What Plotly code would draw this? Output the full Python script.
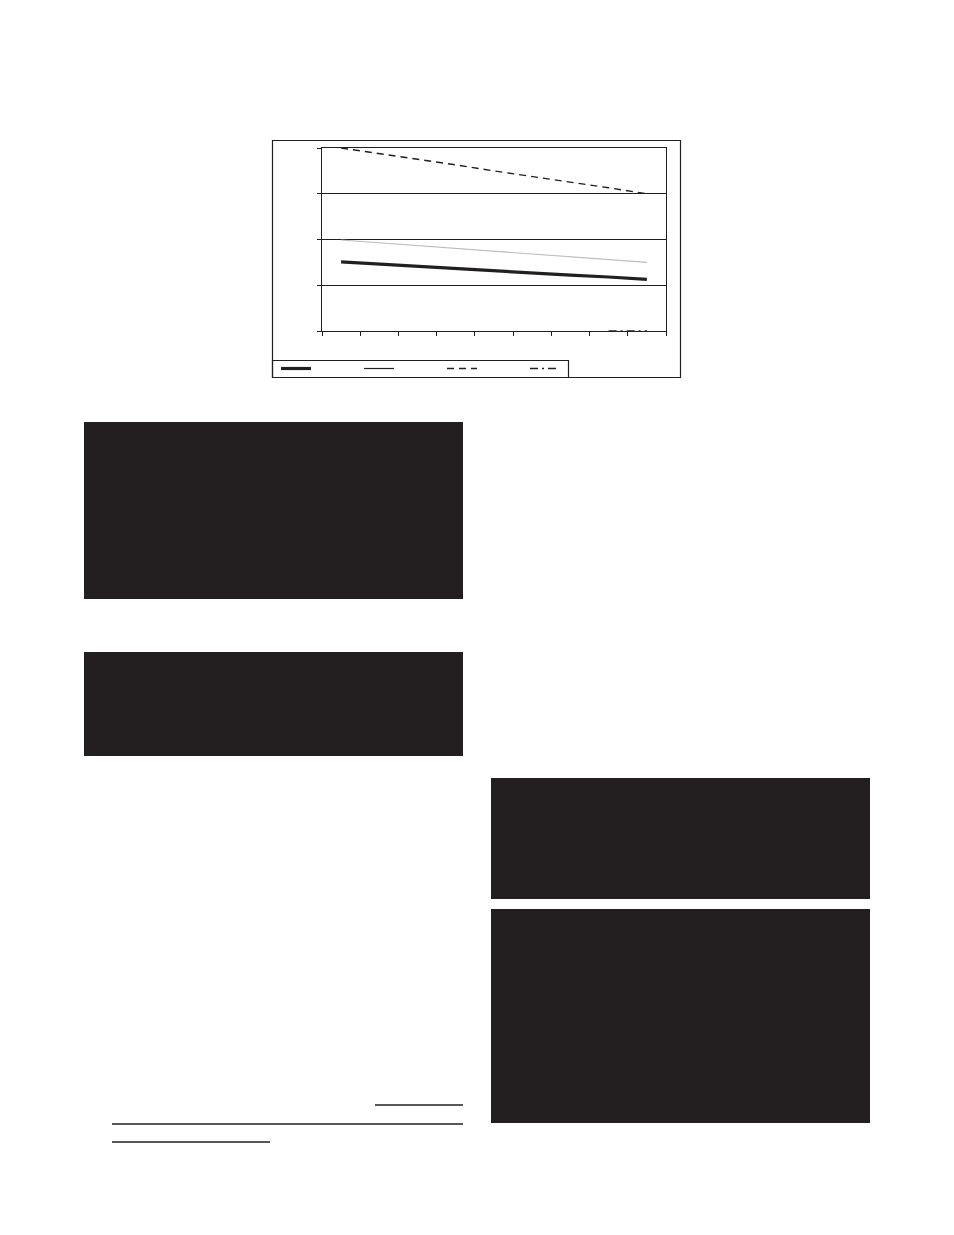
import plotly.graph_objects as go

# page size and the browser's default 8px body margin
PAGE_W, PAGE_H = 954, 1235
OFF = 8
W, H = PAGE_W - 2 * OFF, PAGE_H - 2 * OFF

# ---- data ----
categories = [1, 2, 3, 4, 5, 6, 7, 8, 9]
series_thick = [1.51, 1.46, 1.41, 1.37, 1.32, 1.27, 1.22, 1.18, 1.13]
series_thin = [1.99, 1.93, 1.87, 1.81, 1.75, 1.68, 1.62, 1.56, 1.50]
series_dash = [4.00, 3.88, 3.75, 3.63, 3.50, 3.38, 3.25, 3.13, 3.00]
series_dashdot = [None, None, None, None, None, None, None, 0.0, 0.0]
y_ticks = [0, 1, 2, 3, 4]

INK = "#231f20"


def px(x):
    return (x - OFF) / W


def py(y):
    return 1 - (y - OFF) / H


fig = go.Figure()
fig.add_trace(go.Scatter(x=categories, y=series_thick, mode="lines", name=" ",
                         legendrank=1, line=dict(color=INK, width=3.2)))
fig.add_trace(go.Scatter(x=categories, y=series_thin, mode="lines", name=" ",
                         showlegend=False, line=dict(color="#bdbdbd", width=1.1)))
# legend key of the thin series is printed in black
fig.add_trace(go.Scatter(x=[None], y=[None], mode="lines", name=" ",
                         legendrank=2, line=dict(color=INK, width=1.2)))
fig.add_trace(go.Scatter(x=categories, y=series_dash, mode="lines", name=" ",
                         legendrank=3, line=dict(color=INK, width=1.4, dash="7px,5px")))
fig.add_trace(go.Scatter(x=categories, y=series_dashdot, mode="lines", name=" ",
                         legendrank=4, line=dict(color=INK, width=1.4, dash="8px,4px,2px,4px")))

shapes = []
# chart frame
shapes.append(dict(type="rect", xref="paper", yref="paper",
                   x0=px(272.5), x1=px(680.5), y0=py(377.5), y1=py(140.5),
                   line=dict(color=INK, width=1.2)))
# legend frame
shapes.append(dict(type="rect", xref="paper", yref="paper",
                   x0=px(272.5), x1=px(568.5), y0=py(377.5), y1=py(360.5),
                   line=dict(color=INK, width=1.2)))
# dark blocks on the page
blocks = [(84, 422, 463, 599), (84, 652, 463, 756),
          (491, 778, 870, 899), (491, 909, 870, 1123)]
for x0, y0, x1, y1 in blocks:
    shapes.append(dict(type="rect", xref="paper", yref="paper",
                       x0=px(x0), x1=px(x1), y0=py(y1), y1=py(y0),
                       fillcolor=INK, line=dict(width=0)))
# rules near the bottom
rules = [(375, 463, 1105), (112, 463, 1124), (112, 270, 1142)]
for x0, x1, y in rules:
    shapes.append(dict(type="line", xref="paper", yref="paper",
                       x0=px(x0), x1=px(x1), y0=py(y), y1=py(y),
                       line=dict(color=INK, width=1.3)))

fig.update_layout(
    width=W, height=H,
    margin=dict(l=0, r=0, t=0, b=0),
    paper_bgcolor="white", plot_bgcolor="white",
    showlegend=True,
    legend=dict(orientation="h", x=px(276), y=py(354), xanchor="left", yanchor="top",
                bgcolor="rgba(0,0,0,0)", borderwidth=0,
                entrywidth=38, entrywidthmode="pixels",
                font=dict(size=8, color=INK), tracegroupgap=0),
    shapes=shapes,
    xaxis=dict(domain=[px(322), px(666)], range=[0.5, 9.5],
               tickmode="array", tickvals=[0.5 + i for i in range(10)],
               ticks="outside", ticklen=4, tickcolor=INK, tickwidth=1,
               showticklabels=False, showgrid=False, zeroline=False,
               showline=True, linecolor=INK, linewidth=1.2, mirror=True),
    yaxis=dict(domain=[py(331), py(148)], range=[0, 4],
               tickmode="array", tickvals=y_ticks,
               ticks="outside", ticklen=4, tickcolor=INK, tickwidth=1,
               showticklabels=False, showgrid=True, gridcolor=INK, gridwidth=1.2,
               zeroline=False, showline=True, linecolor=INK, linewidth=1.2, mirror=True),
)

fig.write_html("out.html")
